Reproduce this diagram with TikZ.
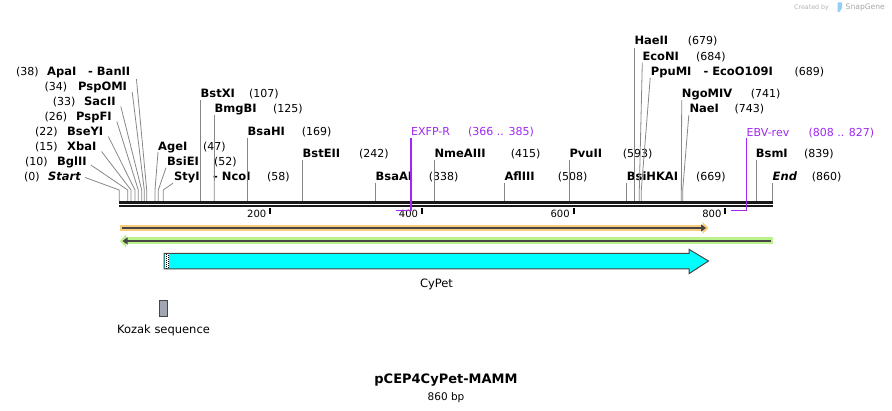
\documentclass[tikz,border=0pt]{standalone}
\usepackage{fontspec}
\setmainfont{DejaVu Sans}
\usepackage{xcolor}
\usetikzlibrary{positioning, arrows.meta}

\definecolor{primerpurple}{RGB}{160,40,240}
\definecolor{orangefeat}{RGB}{250,204,125}
\definecolor{greenfeat}{RGB}{188,242,140}
\definecolor{darkline}{RGB}{70,70,70}
\definecolor{kozakgray}{RGB}{162,166,178}
\definecolor{leadgray}{RGB}{135,135,135}
\definecolor{cypetcyan}{RGB}{0,255,255}
\definecolor{logoblue}{RGB}{150,205,245}

\tikzset{
  enz/.style={font=\fontsize{11.5}{13}\selectfont\bfseries, inner sep=0pt, anchor=west, text height=8pt, text depth=0pt},
  endp/.style={enz, font=\fontsize{11.5}{13}\selectfont\bfseries\itshape},
  sitenum/.style={font=\fontsize{11}{13}\selectfont, inner sep=0pt, anchor=west, text height=8pt, text depth=0pt},
  prm/.style={sitenum, text=primerpurple},
  lead/.style={draw=leadgray, line width=0.8pt},
  prmline/.style={draw=primerpurple, line width=1.5pt},
  tickmark/.style={draw=black, line width=2pt},
  ticklbl/.style={font=\fontsize{10}{12}\selectfont, inner sep=0pt, anchor=east, text height=7.3pt, text depth=0pt},
  featlbl/.style={font=\fontsize{11.5}{13}\selectfont, inner sep=0pt, text height=8.3pt, text depth=0pt}
}

\begin{document}
\begin{tikzpicture}[x=1pt, y=-1pt]
\useasboundingbox (0,0) rectangle (892,411);

% Marca
\node[font=\fontsize{6.3}{8}\selectfont, text=black!30, inner sep=0pt, anchor=west] (madeby) at (794,7.5) {Created by};
\fill[logoblue] (837.5,2.5) -- (842,2.5) -- (842,8) -- (839.5,12) -- (837.5,12) -- cycle;
\node[font=\fontsize{7.6}{9}\selectfont, text=black!35, inner sep=0pt, anchor=west] (sgene) at (845.5,7.5) {SnapGene};

% Esqueleto
\coordinate (bbA) at (119,202.5);
\coordinate (bbB) at (772.5,202.5);
\coordinate (bbC) at (119,206.2);
\coordinate (bbD) at (772.5,206.2);
\draw[line width=3pt, black!90] (bbA) -- (bbB);
\draw[line width=2pt, black!90] (bbC) -- (bbD);

% Escala
\coordinate (t200) at (270.2,208); \coordinate (t200b) at (270.2,214.5);
\coordinate (t400) at (421.9,208); \coordinate (t400b) at (421.9,214.5);
\coordinate (t600) at (573.6,208); \coordinate (t600b) at (573.6,214.5);
\coordinate (t800) at (725.3,208); \coordinate (t800b) at (725.3,214.5);
\draw[tickmark] (t200) -- (t200b);
\draw[tickmark] (t400) -- (t400b);
\draw[tickmark] (t600) -- (t600b);
\draw[tickmark] (t800) -- (t800b);
\node[ticklbl] (l200) at (266.5,214.3) {200};
\node[ticklbl] (l400) at (418.2,214.3) {400};
\node[ticklbl] (l600) at (569.9,214.3) {600};
\node[ticklbl] (l800) at (721.6,214.3) {800};

% Sitios sobre el esqueleto
\coordinate (b0) at (119.3,201);   \coordinate (k0) at (119.3,190);
\coordinate (b10) at (127.7,201);  \coordinate (k10) at (127.7,190);
\coordinate (b15) at (131,201);    \coordinate (k15) at (131,190);
\coordinate (b22) at (135,201);    \coordinate (k22) at (135,190);
\coordinate (b26) at (138.3,201);  \coordinate (k26) at (138.3,190);
\coordinate (b33) at (141.7,201);  \coordinate (k33) at (141.7,190);
\coordinate (b34) at (144.3,201);  \coordinate (k34) at (144.3,190);
\coordinate (b38) at (146.7,201);  \coordinate (k38) at (146.7,190);
\coordinate (b47) at (155,201);    \coordinate (k47) at (155,190);
\coordinate (b52) at (158.3,201);  \coordinate (k52) at (158.3,190);
\coordinate (b58) at (163.3,201);  \coordinate (k58) at (163.3,190);
\coordinate (b107) at (200.5,201);
\coordinate (b125) at (214.3,201);
\coordinate (b169) at (247.5,201);
\coordinate (b242) at (302.5,201);
\coordinate (b338) at (375.5,201);
\coordinate (b415) at (434.3,201);
\coordinate (b508) at (504.3,201);
\coordinate (b593) at (569.3,201);
\coordinate (b669) at (626.7,201);
\coordinate (b679) at (634.3,201);
\coordinate (b684) at (639.3,201);  \coordinate (k684) at (639.3,190);
\coordinate (b689) at (641.3,201);  \coordinate (k689) at (641.3,190);
\coordinate (b741) at (681.3,201);
\coordinate (b743) at (682.7,201);  \coordinate (k743) at (682.7,190);
\coordinate (b839) at (756,201);
\coordinate (b860) at (772.3,201);

% Enzimas, grupo izquierdo
\node[sitenum] (n38) at (16,72) {(38)};
\node[enz] (apa) at (47,72) {ApaI};
\node[enz] (ban) at (88,72) {- BanII};
\node[sitenum] (n34) at (44.3,87) {(34)};
\node[enz] (pspomi) at (78,87) {PspOMI};
\node[sitenum] (n33) at (52.7,102) {(33)};
\node[enz] (sac) at (84,102) {SacII};
\node[sitenum] (n26) at (44.3,117) {(26)};
\node[enz] (pspfi) at (76,117) {PspFI};
\node[sitenum] (n22) at (35,132) {(22)};
\node[enz] (bseyi) at (67,132) {BseYI};
\node[sitenum] (n15) at (35,147) {(15)};
\node[enz] (xba) at (67,147) {XbaI};
\node[sitenum] (n10) at (25,162) {(10)};
\node[enz] (bgl) at (57,162) {BglII};
\node[sitenum] (n0) at (24,177) {(0)};
\node[endp] (start) at (48,177) {Start};

\draw[lead] ([shift={(6,7)}]ban.east) -- (k38) -- (b38);
\draw[lead] ([shift={(5,5)}]pspomi.east) -- (k34) -- (b34);
\draw[lead] ([shift={(5,4.5)}]sac.east) -- (k33) -- (b33);
\draw[lead] ([shift={(5,4.5)}]pspfi.east) -- (k26) -- (b26);
\draw[lead] ([shift={(5,4.5)}]bseyi.east) -- (k22) -- (b22);
\draw[lead] ([shift={(5,4.5)}]xba.east) -- (k15) -- (b15);
\draw[lead] ([shift={(4,3)}]bgl.east) -- (k10) -- (b10);
\draw[lead] ([shift={(4,0.5)}]start.east) -- (k0) -- (b0);

\node[enz] (age) at (158,147) {AgeI};
\node[sitenum] (n47) at (203,147) {(47)};
\node[enz] (bsiei) at (167,162) {BsiEI};
\node[sitenum] (n52) at (214,162) {(52)};
\node[enz] (sty) at (174,177) {StyI};
\node[enz] (nco) at (213,177) {- NcoI};
\node[sitenum] (n58) at (267,177) {(58)};

\draw[lead] ([shift={(0,1)}]age.south west) -- (k47) -- (b47);
\draw[lead] ([shift={(-1,1.5)}]bsiei.south west) -- (k52) -- (b52);
\draw[lead] ([shift={(-1,2)}]sty.south west) -- (k58) -- (b58);

% Enzimas, grupo central
\node[enz] (bstxi) at (200.5,94) {BstXI};
\node[sitenum] (n107) at (249,94) {(107)};
\node[enz] (bmgbi) at (214.5,109) {BmgBI};
\node[sitenum] (n125) at (273,109) {(125)};
\node[enz] (bsahi) at (247.5,132) {BsaHI};
\node[sitenum] (n169) at (301.7,132) {(169)};
\node[enz] (bsteii) at (302.5,154) {BstEII};
\node[sitenum] (n242) at (359,154) {(242)};
\node[enz] (bsaai) at (375.5,177) {BsaAI};
\node[sitenum] (n338) at (428.7,177) {(338)};
\node[enz] (nmea) at (434.3,154) {NmeAIII};
\node[sitenum] (n415) at (510.7,154) {(415)};
\node[enz] (afl) at (504.3,177) {AflIII};
\node[sitenum] (n508) at (557.7,177) {(508)};
\node[enz] (pvu) at (569.3,154) {PvuII};
\node[sitenum] (n593) at (622.7,154) {(593)};

\draw[lead] ([shift={(0,2)}]bstxi.south west) -- (b107);
\draw[lead] ([shift={(0,2)}]bmgbi.south west) -- (b125);
\draw[lead] ([shift={(0,2)}]bsahi.south west) -- (b169);
\draw[lead] ([shift={(0,2)}]bsteii.south west) -- (b242);
\draw[lead] ([shift={(0,1.5)}]bsaai.south west) -- (b338);
\draw[lead] ([shift={(0,2)}]nmea.south west) -- (b415);
\draw[lead] ([shift={(0,1.5)}]afl.south west) -- (b508);
\draw[lead] ([shift={(0,2)}]pvu.south west) -- (b593);

% Enzimas, grupo derecho
\node[enz] (bsihk) at (626.7,177) {BsiHKAI};
\node[sitenum] (n669) at (696,177) {(669)};
\node[enz] (hae) at (634.3,41) {HaeII};
\node[sitenum] (n679) at (687.7,41) {(679)};
\node[enz] (econi) at (642.3,57) {EcoNI};
\node[sitenum] (n684) at (696,57) {(684)};
\node[enz] (ppu) at (650.7,72) {PpuMI};
\node[enz] (ecoo) at (703.3,72) {- EcoO109I};
\node[sitenum] (n689) at (794.3,72) {(689)};
\node[enz] (ngo) at (681.7,94) {NgoMIV};
\node[sitenum] (n741) at (750.7,94) {(741)};
\node[enz] (nae) at (689.3,109) {NaeI};
\node[sitenum] (n743) at (734.3,109) {(743)};
\node[enz] (bsm) at (755.7,154) {BsmI};
\node[sitenum] (n839) at (804,154) {(839)};
\node[endp] (fin) at (772.5,177) {End};
\node[sitenum] (n860) at (811.7,177) {(860)};

\draw[lead] ([shift={(0,1.5)}]bsihk.south west) -- (b669);
\draw[lead] ([shift={(0,2.5)}]hae.south west) -- (b679);
\draw[lead] ([shift={(0,1.5)}]econi.south west) -- (k684) -- (b684);
\draw[lead] ([shift={(-0.5,2)}]ppu.south west) -- (k689) -- (b689);
\draw[lead] ([shift={(0,2)}]ngo.south west) -- (b741);
\draw[lead] ([shift={(-0.5,2)}]nae.south west) -- (k743) -- (b743);
\draw[lead] ([shift={(0.3,1.5)}]bsm.south west) -- (b839);
\draw[lead] ([shift={(-0.2,1.5)}]fin.south west) -- (b860);

% Cebadores
\node[prm] (exfp) at (411,131.7) {EXFP-R};
\node[prm] (exfpn) at (468,131.7) {(366 .. 385)};
\node[prm] (ebv) at (746.5,132.3) {EBV-rev};
\node[prm] (ebvn) at (808.3,132.3) {(808 .. 827)};
\coordinate (exfpA) at (411,210.5);
\coordinate (exfpB) at (396,210.5);
\coordinate (ebvA) at (746.5,210.5);
\coordinate (ebvB) at (731,210.5);
\draw[prmline] ([shift={(0,2)}]exfp.south west) -- (exfpA) -- (exfpB);
\draw[prmline] ([shift={(0,2)}]ebv.south west) -- (ebvA) -- (ebvB);

% Rasgos
\coordinate (orgA) at (119.5,228);
\coordinate (orgB) at (708.5,228);
\coordinate (orgC) at (122,228);
\coordinate (orgD) at (706,228);
\draw[line width=6pt, orangefeat, -{Triangle[length=6pt,width=12pt]}] (orgA) -- (orgB);
\draw[line width=2pt, darkline, -{Triangle[length=5pt,width=7pt]}] (orgC) -- (orgD);

\coordinate (grnA) at (772.7,241);
\coordinate (grnB) at (120,241);
\coordinate (grnC) at (771,241);
\coordinate (grnD) at (122.5,241);
\draw[line width=7pt, greenfeat, -{Triangle[length=6pt,width=13pt]}] (grnA) -- (grnB);
\draw[line width=2pt, darkline, -{Triangle[length=5pt,width=7pt]}] (grnC) -- (grnD);

\draw[fill=cypetcyan, draw=darkline, line width=1pt]
  (164,253.3) -- (689,253.3) -- (689,249.3) -- (708.5,261) -- (689,273.7)
  -- (689,269) -- (164,269) -- cycle;
\fill[white] (164.5,253.8) rectangle (169,268.5);
\draw[black, line width=1pt, dash pattern=on 1pt off 1pt] (166,253.8) -- (166,268.5);
\draw[black, line width=1pt, dash pattern=on 1pt off 1pt, dash phase=1pt] (168,253.8) -- (168,268.5);
\coordinate (cyp) at (436.5,269);
\node[featlbl, below=10pt of cyp] (cypet) {CyPet};

\node[draw=darkline, fill=kozakgray, line width=0.8pt, minimum width=8.4pt, minimum height=16.4pt, inner sep=0pt] (kozak) at (163.5,308.5) {};
\node[featlbl, below=8pt of kozak] (kozakl) {Kozak sequence};

% Titulo
\node[font=\fontsize{13}{15}\selectfont\bfseries, inner sep=0pt, text height=9.4pt, text depth=0pt] (title) at (446,378.8) {pCEP4CyPet-MAMM};
\node[font=\fontsize{10.5}{12}\selectfont, inner sep=0pt, text height=7.6pt, text depth=0pt, below=8.8pt of title] (len) {860 bp};
\end{tikzpicture}
\end{document}
